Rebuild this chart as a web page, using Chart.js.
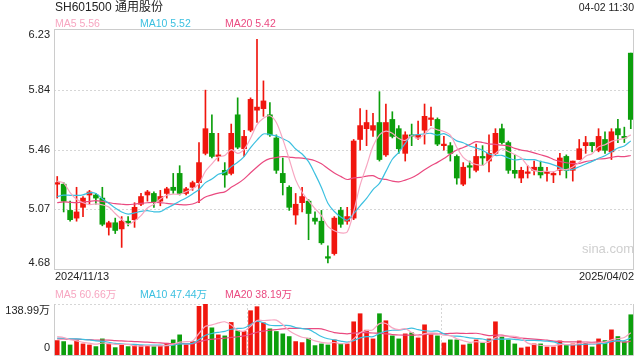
<!DOCTYPE html>
<html>
<head>
<meta charset="utf-8">
<script src="https://cdn.jsdelivr.net/npm/chart.js@4.4.1/dist/chart.umd.min.js"></script>
<style>
  body { margin: 0; background: #fff; }
  #wrap { position: relative; width: 640px; height: 360px; }
  #wrap canvas { position: absolute; left: 0; top: 0; }
</style>
</head>
<body>
<div id="wrap">
  <canvas id="price" width="640" height="360"></canvas>
  <canvas id="vol" width="640" height="360"></canvas>
</div>
<script>
// daily candles, 2024/11/13 .. 2025/04/02
const opens = [
  5.23, 5.23, 5.06, 5.01, 5.08, 5.16, 5.16, 5.14, 4.95, 4.98,
  4.94, 4.99, 5.00, 5.10, 5.16, 5.17, 5.12, 5.17, 5.21, 5.30,
  5.17, 5.21, 5.24, 5.43, 5.56, 5.41, 5.32, 5.30, 5.68, 5.46,
  5.58, 5.71, 5.72, 5.68, 5.53, 5.30, 5.21, 5.03, 5.11, 5.12,
  5.01, 4.99, 4.76, 4.78, 5.06, 4.99, 5.01, 5.52, 5.59, 5.58,
  5.63, 5.42, 5.65, 5.59, 5.43, 5.55, 5.53, 5.58, 5.65, 5.65,
  5.48, 5.48, 5.41, 5.23, 5.35, 5.32, 5.41, 5.38, 5.43, 5.59,
  5.50, 5.32, 5.27, 5.30, 5.32, 5.34, 5.30, 5.29, 5.32, 5.41,
  5.32, 5.39, 5.48, 5.50, 5.45, 5.52, 5.44, 5.59, 5.54, 6.08
];
const closes = [
  5.24, 5.12, 5.00, 5.05, 5.14, 5.18, 5.14, 4.97, 4.98, 4.93,
  4.99, 4.98, 5.08, 5.15, 5.18, 5.11, 5.15, 5.20, 5.19, 5.17,
  5.20, 5.24, 5.37, 5.59, 5.41, 5.42, 5.29, 5.56, 5.47, 5.54,
  5.78, 5.73, 5.77, 5.55, 5.32, 5.24, 5.08, 5.10, 5.15, 5.04,
  4.99, 4.85, 4.75, 5.01, 4.97, 5.02, 5.51, 5.61, 5.63, 5.61,
  5.39, 5.63, 5.54, 5.46, 5.55, 5.54, 5.55, 5.67, 5.66, 5.49,
  5.49, 5.43, 5.27, 5.34, 5.34, 5.41, 5.40, 5.43, 5.56, 5.50,
  5.32, 5.30, 5.32, 5.31, 5.34, 5.29, 5.31, 5.30, 5.40, 5.32,
  5.38, 5.46, 5.50, 5.48, 5.54, 5.45, 5.57, 5.55, 5.53, 5.65
];
const highs = [
  5.28, 5.24, 5.12, 5.21, 5.15, 5.19, 5.17, 5.21, 4.99, 5.01,
  5.02, 5.02, 5.11, 5.17, 5.19, 5.18, 5.19, 5.21, 5.30, 5.35,
  5.21, 5.25, 5.50, 5.84, 5.68, 5.56, 5.37, 5.62, 5.79, 5.58,
  5.79, 6.17, 5.90, 5.76, 5.55, 5.40, 5.22, 5.17, 5.21, 5.13,
  5.05, 5.06, 4.83, 5.02, 5.08, 5.08, 5.52, 5.72, 5.71, 5.69,
  5.83, 5.75, 5.70, 5.61, 5.57, 5.62, 5.64, 5.75, 5.73, 5.66,
  5.54, 5.50, 5.42, 5.37, 5.38, 5.49, 5.48, 5.55, 5.59, 5.62,
  5.51, 5.42, 5.34, 5.35, 5.38, 5.38, 5.34, 5.31, 5.43, 5.42,
  5.38, 5.52, 5.54, 5.50, 5.59, 5.57, 5.59, 5.65, 5.60, 6.08
];
const lows = [
  5.14, 5.05, 4.99, 4.99, 5.02, 5.10, 5.10, 4.96, 4.90, 4.91,
  4.82, 4.96, 4.95, 5.09, 5.12, 5.08, 5.09, 5.14, 5.17, 5.16,
  5.16, 5.19, 5.11, 5.42, 5.40, 5.38, 5.21, 5.29, 5.46, 5.41,
  5.57, 5.63, 5.67, 5.54, 5.30, 5.16, 5.06, 4.97, 5.05, 4.87,
  4.97, 4.84, 4.72, 4.77, 4.95, 4.97, 5.00, 5.45, 5.48, 5.54,
  5.38, 5.41, 5.53, 5.43, 5.38, 5.48, 5.52, 5.49, 5.61, 5.48,
  5.45, 5.38, 5.23, 5.22, 5.27, 5.31, 5.35, 5.31, 5.42, 5.49,
  5.30, 5.27, 5.24, 5.27, 5.29, 5.27, 5.25, 5.24, 5.29, 5.27,
  5.25, 5.39, 5.43, 5.44, 5.44, 5.43, 5.39, 5.50, 5.50, 5.59
];
// volume, 万手
const volumes = [
  39.3, 36.6, 27.4, 39.3, 30.2, 27.4, 22.9, 43.9, 30.2, 20.1,
  27.4, 22.9, 25.6, 25.6, 25.6, 22.9, 25.6, 32.0, 41.2, 54.9,
  27.4, 36.6, 132.6, 138.99, 74.1, 54.9, 52.1, 88.7, 65.8, 64.0,
  120.7, 131.7, 87.8, 71.3, 64.0, 57.6, 50.3, 36.6, 33.8, 45.7,
  25.6, 30.2, 27.4, 41.2, 30.2, 30.2, 90.5, 112.5, 67.7, 43.9,
  112.5, 93.3, 52.1, 43.9, 57.6, 60.4, 46.6, 82.3, 54.9, 52.1,
  32.9, 41.2, 41.2, 27.4, 30.2, 41.2, 32.9, 43.9, 90.5, 49.4,
  41.2, 30.2, 19.2, 21.9, 30.2, 30.2, 21.9, 21.9, 38.4, 28.3,
  30.2, 38.4, 32.9, 21.9, 43.9, 39.3, 68.6, 50.3, 36.0, 109.7
];
// sessions before the visible window, only used to seed the averages
const priorCloses = [
  5.02, 5.05, 5.08, 5.10, 5.06, 5.04, 5.09, 5.12, 5.08, 5.06,
  5.03, 5.01, 5.06, 5.10, 5.05, 5.18, 5.31, 5.27, 5.25
];
const priorVolumes = [
  38, 45, 40, 47, 36, 44, 41, 39, 46, 44,
  40, 44, 38, 46, 42, 48, 58, 55, 49.7
];

const yTickLabels = ['4.68', '5.07', '5.46', '5.84', '6.23'];
const priceMin = 4.68, priceMax = 6.23;
const volMax = 138.99;
const volTickLabels = ['0', '138.99万'];
const startDate = '2024/11/13', endDate = '2025/04/02';
const title = 'SH601500 通用股份';
const stamp = '04-02 11:30';
const maLegend = ['MA5 5.56', 'MA10 5.52', 'MA20 5.42'];
const volLegend = ['MA5 60.66万', 'MA10 47.44万', 'MA20 38.19万'];

const RED = '#f0160e', GREEN = '#0c9f0c';
const MA_COLORS = ['#f7a6c1', '#3cc0e0', '#ea4a80'];
const FONT = '"Liberation Sans", Arial, "Noto Sans CJK SC", sans-serif';

function movingAvg(prior, values, n) {
    const all = prior.concat(values);
    return values.map((_, i) => {
        const end = prior.length + i + 1;
        const win = all.slice(end - n, end);
        return win.reduce((a, b) => a + b, 0) / win.length;
    });
}

const labels = closes.map((_, i) => String(i + 1));
const colors = closes.map((c, i) => c >= opens[i] ? RED : GREEN);

function maLine(data, color) {
    return {
        type: 'line', data: data, borderColor: color, borderWidth: 1.2,
        pointRadius: 0, tension: 0.3, fill: false, order: 0
    };
}

function text(ctx, s, x, y, color, size, align) {
    ctx.fillStyle = color;
    ctx.font = size + 'px ' + FONT;
    ctx.textAlign = align || 'left';
    ctx.textBaseline = 'middle';
    ctx.fillText(s, x, y);
}

function dotted(ctx, x1, y1, x2, y2) {
    ctx.save();
    ctx.strokeStyle = '#d6d6d6';
    ctx.lineWidth = 1;
    ctx.setLineDash([2, 2]);
    ctx.beginPath();
    ctx.moveTo(x1, y1);
    ctx.lineTo(x2, y2);
    ctx.stroke();
    ctx.restore();
}

const pricePanel = {
    id: 'pricePanel',
    beforeDatasetsDraw(chart) {
        const ctx = chart.ctx, a = chart.chartArea, y = chart.scales.y;
        for (let i = 1; i < yTickLabels.length - 1; i++) {
            const v = priceMin + i * (priceMax - priceMin) / (yTickLabels.length - 1);
            const py = Math.round(y.getPixelForValue(v)) + 0.5;
            dotted(ctx, a.left, py, a.right, py);
        }
        text(ctx, 'sina.com', 582, 249, '#cfcfcf', 13);
    },
    afterDraw(chart) {
        const ctx = chart.ctx, a = chart.chartArea, y = chart.scales.y;
        ctx.save();
        ctx.strokeStyle = '#cccccc';
        ctx.lineWidth = 1;
        ctx.strokeRect(a.left + 0.5, a.top - 0.5, a.right - a.left - 1, a.bottom - a.top + 1);
        ctx.restore();
        yTickLabels.forEach((s, i) => {
            const v = priceMin + i * (priceMax - priceMin) / (yTickLabels.length - 1);
            let py = y.getPixelForValue(v);
            if (i === 0) py -= 6;
            if (i === yTickLabels.length - 1) py += 5;
            text(ctx, s, a.left - 4, py, '#222', 11, 'right');
        });
        text(ctx, title, 55, 8, '#222', 12);
        text(ctx, stamp, 634, 8, '#222', 10.5, 'right');
        [55, 140, 225].forEach((x, i) => text(ctx, maLegend[i], x, 24, MA_COLORS[i], 10.5));
        text(ctx, startDate, 55, 277, '#222', 11);
        text(ctx, endDate, 634, 277, '#222', 11, 'right');
        [55, 140, 225].forEach((x, i) => text(ctx, volLegend[i], x, 295, MA_COLORS[i], 10.5));
    }
};

const volPanel = {
    id: 'volPanel',
    beforeDatasetsDraw(chart) {
        const ctx = chart.ctx, a = chart.chartArea, x = chart.scales.x;
        dotted(ctx, a.left, Math.round(a.top) + 0.5, a.right, Math.round(a.top) + 0.5);
        [30, 60].forEach(i => {
            const px = Math.round((x.getPixelForValue(i - 1) + x.getPixelForValue(i)) / 2) + 0.5;
            dotted(ctx, px, a.top, px, a.bottom);
        });
        ctx.save();
        ctx.strokeStyle = '#cccccc';
        ctx.lineWidth = 1;
        ctx.beginPath();
        ctx.moveTo(a.left + 0.5, a.top);
        ctx.lineTo(a.left + 0.5, a.bottom + 0.5);
        ctx.lineTo(a.right - 0.5, a.bottom + 0.5);
        ctx.lineTo(a.right - 0.5, a.top);
        ctx.stroke();
        ctx.restore();
    },
    afterDraw(chart) {
        const ctx = chart.ctx, a = chart.chartArea;
        text(ctx, volTickLabels[1], a.left - 4, a.top + 7, '#222', 11, 'right');
        text(ctx, volTickLabels[0], a.left - 4, a.bottom - 7, '#222', 11, 'right');
    }
};

Chart.defaults.font.family = FONT;

new Chart(document.getElementById('price'), {
    type: 'bar',
    data: {
        labels: labels,
        datasets: [
            maLine(movingAvg(priorCloses, closes, 5), MA_COLORS[0]),
            maLine(movingAvg(priorCloses, closes, 10), MA_COLORS[1]),
            maLine(movingAvg(priorCloses, closes, 20), MA_COLORS[2]),
            {
                data: opens.map((o, i) => [o, closes[i]]),
                backgroundColor: colors, borderWidth: 0,
                barThickness: 5, minBarLength: 1, grouped: false, order: 1
            },
            {
                data: lows.map((l, i) => [l, highs[i]]),
                backgroundColor: colors, borderWidth: 0,
                barThickness: 1, grouped: false, order: 2
            }
        ]
    },
    options: {
        responsive: false,
        animation: false,
        events: [],
        layout: {padding: {left: 54, right: 6, top: 30, bottom: 91}},
        scales: {
            x: {display: false, offset: true},
            y: {display: false, min: priceMin, max: priceMax}
        },
        plugins: {legend: {display: false}, tooltip: {enabled: false}}
    },
    plugins: [pricePanel]
});

new Chart(document.getElementById('vol'), {
    type: 'bar',
    data: {
        labels: labels,
        datasets: [
            maLine(movingAvg(priorVolumes, volumes, 5), MA_COLORS[0]),
            maLine(movingAvg(priorVolumes, volumes, 10), MA_COLORS[1]),
            maLine(movingAvg(priorVolumes, volumes, 20), MA_COLORS[2]),
            {
                data: volumes, backgroundColor: colors, borderWidth: 0,
                barThickness: 4, grouped: false, order: 1
            }
        ]
    },
    options: {
        responsive: false,
        animation: false,
        events: [],
        layout: {padding: {left: 54, right: 6, top: 304, bottom: 5}},
        scales: {
            x: {display: false, offset: true},
            y: {display: false, min: 0, max: volMax}
        },
        plugins: {legend: {display: false}, tooltip: {enabled: false}}
    },
    plugins: [volPanel]
});
</script>
</body>
</html>
